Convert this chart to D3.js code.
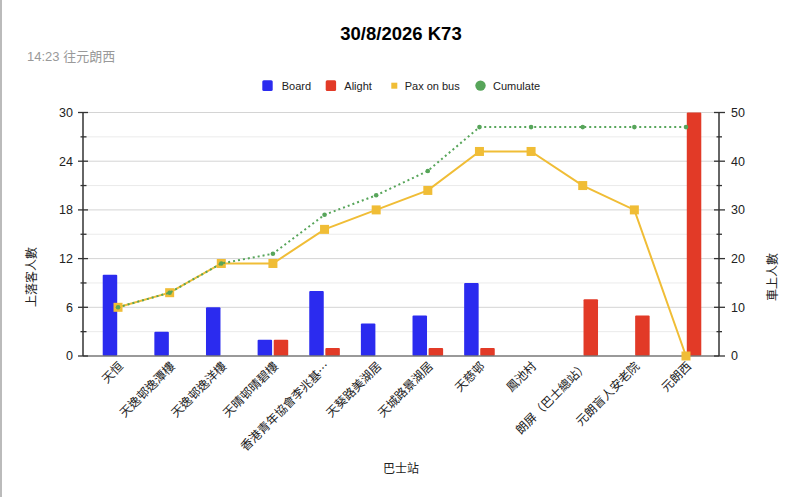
<!DOCTYPE html>
<html><head><meta charset="utf-8">
<script src="https://cdn.jsdelivr.net/npm/d3@7"></script>
<style>
body{margin:0;background:#fff;}
svg{display:block;font-family:"Liberation Sans",Arial,sans-serif;}
</style></head>
<body>
<svg id="c" width="800" height="497"></svg>
<script>
const stations = ["天恒","天逸邨逸潭樓","天逸邨逸洋樓","天晴邨晴碧樓","香港青年協會李兆基…","天葵路美湖居","天城路景湖居","天慈邨","鳳池村","朗屏（巴士總站）","元朗盲人安老院","元朗西"];
const board  = [10,3,6,2,8,4,5,9,0,0,0,0];
const alight = [0,0,0,2,1,0,1,1,0,7,5,30];
const paxOnBus = [10,13,19,19,26,30,34,42,42,35,30,0];
const cumulate = [10,13,19,21,29,33,38,47,47,47,47,47];
const leftTicks = [0,6,12,18,24,30];
const rightTicks = [0,10,20,30,40,50];
const seriesNames = ["Board","Alight","Pax on bus","Cumulate"];

const C = {board:"#2b2bef", alight:"#e23a27", pax:"#f0bd36", cum:"#57a55a"};
const svg = d3.select("#c");
const L = 83, R = 719, T = 112.5, B = 356;

const x = d3.scalePoint().domain(stations).range([92.2, 711.8]).padding(0.5);
const yL = d3.scaleLinear().domain([0,30]).range([B,T]);
const yR = d3.scaleLinear().domain([0,50]).range([B,T]);

// left border line
svg.append("line").attr("x1",1).attr("x2",1).attr("y1",0).attr("y2",497).attr("stroke","#bbb").attr("stroke-width",2);

// gridlines
const minorL = d3.range(3,30,6);
svg.append("g").selectAll("line").data(minorL).join("line")
  .attr("x1",L).attr("x2",R).attr("y1",d=>yL(d)).attr("y2",d=>yL(d))
  .attr("stroke","#ebebeb").attr("stroke-width",1);
svg.append("g").selectAll("line").data(leftTicks.slice(1)).join("line")
  .attr("x1",L).attr("x2",R).attr("y1",d=>yL(d)).attr("y2",d=>yL(d))
  .attr("stroke","#d4d4d4").attr("stroke-width",1);

// bars
const bw = 14.5;
svg.append("g").selectAll("rect").data(board).join("rect")
  .attr("x",(d,i)=>x(stations[i])-bw-0.8).attr("width",bw)
  .attr("y",d=>yL(d)).attr("height",d=>B-yL(d))
  .attr("fill",C.board).attr("rx",1);
svg.append("g").selectAll("rect").data(alight).join("rect")
  .attr("x",(d,i)=>x(stations[i])+0.8).attr("width",bw)
  .attr("y",d=>yL(d)).attr("height",d=>B-yL(d))
  .attr("fill",C.alight).attr("rx",1);

// baseline
svg.append("line").attr("x1",L).attr("x2",R).attr("y1",B).attr("y2",B).attr("stroke","#777").attr("stroke-width",1.5);

// pax line
const paxLine = d3.line().x((d,i)=>x(stations[i])).y(d=>yR(d));
svg.append("path").datum(paxOnBus).attr("d",paxLine).attr("fill","none").attr("stroke",C.pax).attr("stroke-width",2);
svg.append("g").selectAll("rect").data(paxOnBus).join("rect")
  .attr("x",(d,i)=>x(stations[i])-4.5).attr("y",d=>yR(d)-4.5).attr("width",9).attr("height",9)
  .attr("fill",C.pax);

// cumulate
const cumLine = d3.line().x((d,i)=>x(stations[i])).y(d=>yR(d));
svg.append("path").datum(cumulate).attr("d",cumLine).attr("fill","none").attr("stroke",C.cum)
  .attr("stroke-width",2).attr("stroke-dasharray","2,3");
svg.append("g").selectAll("circle").data(cumulate).join("circle")
  .attr("cx",(d,i)=>x(stations[i])).attr("cy",d=>yR(d)).attr("r",2.3).attr("fill",C.cum);

// axes
const axL = svg.append("g");
axL.append("line").attr("x1",L).attr("x2",L).attr("y1",T).attr("y2",B).attr("stroke","#333").attr("stroke-width",1.5);
axL.selectAll("line.mj").data(leftTicks).join("line").attr("class","mj")
  .attr("x1",L-5).attr("x2",L+5).attr("y1",d=>yL(d)).attr("y2",d=>yL(d)).attr("stroke","#333").attr("stroke-width",1.3);
axL.selectAll("line.mn").data(minorL).join("line").attr("class","mn")
  .attr("x1",L-2.5).attr("x2",L+3.5).attr("y1",d=>yL(d)).attr("y2",d=>yL(d)).attr("stroke","#333").attr("stroke-width",1.3);
axL.selectAll("text").data(leftTicks).join("text")
  .attr("x",L-10).attr("y",d=>yL(d)).attr("dy","0.35em").attr("text-anchor","end")
  .attr("font-size",12.5).attr("fill","#222").text(d=>d);

const minorR = d3.range(5,50,10);
const axR = svg.append("g");
axR.append("line").attr("x1",R).attr("x2",R).attr("y1",T).attr("y2",B).attr("stroke","#333").attr("stroke-width",1.5);
axR.selectAll("line.mj").data(rightTicks).join("line").attr("class","mj")
  .attr("x1",R-5).attr("x2",R+6).attr("y1",d=>yR(d)).attr("y2",d=>yR(d)).attr("stroke","#333").attr("stroke-width",1.3);
axR.selectAll("line.mn").data(minorR).join("line").attr("class","mn")
  .attr("x1",R-2.5).attr("x2",R+3).attr("y1",d=>yR(d)).attr("y2",d=>yR(d)).attr("stroke","#333").attr("stroke-width",1.3);
axR.selectAll("text").data(rightTicks).join("text")
  .attr("x",R+12).attr("y",d=>yR(d)).attr("dy","0.35em").attr("text-anchor","start")
  .attr("font-size",12.5).attr("fill","#222").text(d=>d);

// x labels
svg.append("g").selectAll("text").data(stations).join("text")
  .attr("transform",d=>`translate(${x(d)+6},${B+11}) rotate(-45)`)
  .attr("text-anchor","end").attr("font-size",12).attr("fill","#222")
  .attr("font-family","'Noto Sans CJK TC',sans-serif").text(d=>d);

// titles
svg.append("text").attr("x",401).attr("y",40).attr("text-anchor","middle")
  .attr("font-size",18.5).attr("font-weight","bold").attr("fill","#000").text("30/8/2026 K73");
svg.append("text").attr("x",27).attr("y",61).attr("font-size",13).attr("fill","#999")
  .attr("font-family","'Liberation Sans','Noto Sans CJK TC',sans-serif").text("14:23 往元朗西");
svg.append("text").attr("transform","translate(36,277) rotate(-90)").attr("text-anchor","middle")
  .attr("font-size",12).attr("fill","#222").attr("font-family","'Noto Sans CJK TC',sans-serif").text("上落客人數");
svg.append("text").attr("transform","translate(777,277) rotate(-90)").attr("text-anchor","middle")
  .attr("font-size",12).attr("fill","#222").attr("font-family","'Noto Sans CJK TC',sans-serif").text("車上人數");
svg.append("text").attr("x",401).attr("y",473).attr("text-anchor","middle")
  .attr("font-size",12).attr("fill","#222").attr("font-family","'Noto Sans CJK TC',sans-serif").text("巴士站");

// legend
const lg = svg.append("g");
const items = [
  {n:seriesNames[0], c:C.board, s:"sq", x:262.3, tx:281.7},
  {n:seriesNames[1], c:C.alight, s:"sq", x:325.7, tx:344.3},
  {n:seriesNames[2], c:C.pax, s:"ssq", x:391.3, tx:404.7},
  {n:seriesNames[3], c:C.cum, s:"ci", x:475.3, tx:493}
];
items.forEach(it=>{
  if(it.s==="sq") lg.append("rect").attr("x",it.x).attr("y",80.3).attr("width",10.4).attr("height",10.6).attr("rx",1.5).attr("fill",it.c);
  else if(it.s==="ssq") lg.append("rect").attr("x",it.x).attr("y",82.7).attr("width",6).attr("height",6).attr("fill",it.c);
  else lg.append("circle").attr("cx",it.x+5.2).attr("cy",85.6).attr("r",5.2).attr("fill",it.c);
  lg.append("text").attr("x",it.tx).attr("y",85.6).attr("dy","0.36em").attr("font-size",11).attr("fill","#222").text(it.n);
});
</script>
</body></html>
